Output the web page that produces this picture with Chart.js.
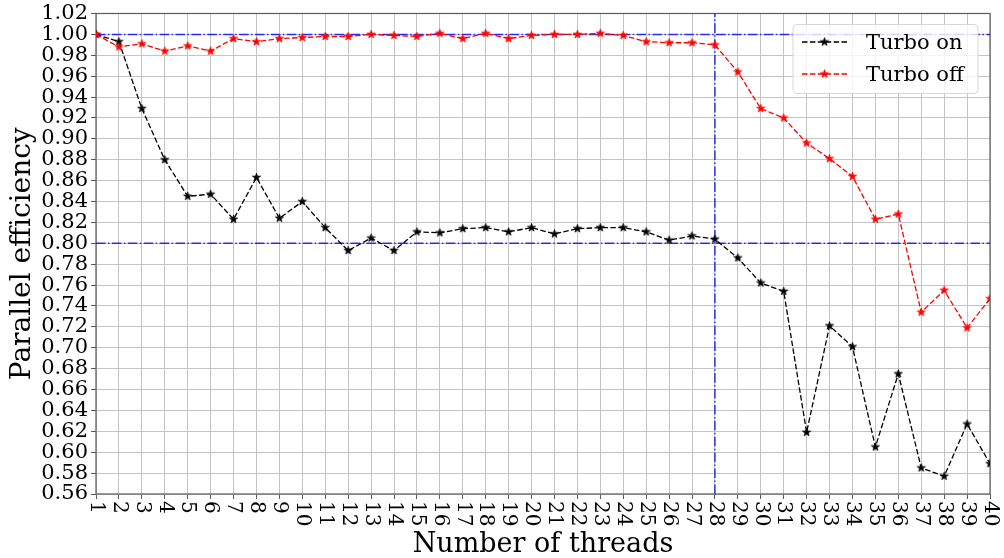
<!DOCTYPE html>
<html>
<head>
<meta charset="utf-8">
<script src="https://cdn.jsdelivr.net/npm/chart.js@4/dist/chart.umd.min.js"></script>
<style>
  html, body { margin: 0; padding: 0; background: #fff; }
  #wrap { width: 1004px; height: 558px; }
</style>
</head>
<body>
<div id="wrap"><canvas id="chart" width="1004" height="558"></canvas></div>
<script>
// data
const threads = [1,2,3,4,5,6,7,8,9,10,11,12,13,14,15,16,17,18,19,20,
                 21,22,23,24,25,26,27,28,29,30,31,32,33,34,35,36,37,38,39,40]
const turboOn = [1.000,0.993,0.929,0.880,0.845,0.847,0.823,0.863,0.824,0.840,
                 0.815,0.793,0.805,0.793,0.811,0.810,0.814,0.815,0.811,0.815,
                 0.809,0.814,0.815,0.815,0.811,0.803,0.807,0.804,0.786,0.762,
                 0.754,0.619,0.721,0.701,0.605,0.675,0.585,0.577,0.627,0.589]
const turboOff = [1.000,0.988,0.991,0.984,0.989,0.984,0.996,0.993,0.996,0.997,
                  0.998,0.998,1.000,0.999,0.998,1.001,0.996,1.001,0.996,0.999,
                  1.000,1.000,1.001,0.999,0.993,0.992,0.992,0.990,0.964,0.929,
                  0.920,0.896,0.881,0.864,0.823,0.828,0.734,0.755,0.719,0.747]
const refLevels = [1.00, 0.80]   // horizontal guides
const refThread = 28             // vertical guide
const yMin = 0.56, yMax = 1.02, yStep = 0.02

const SERIF = "'DejaVu Serif', serif"

function starImage(color, r) {
  const size = Math.ceil(r * 2 + 2)
  const c = document.createElement('canvas')
  c.width = size; c.height = size
  const g = c.getContext('2d')
  const cx = size / 2, cy = size / 2, ri = r * 0.382
  g.beginPath()
  for (let i = 0; i < 10; i++) {
    const a = -Math.PI / 2 + i * Math.PI / 5
    const rr = i % 2 === 0 ? r : ri
    const px = cx + rr * Math.cos(a), py = cy + rr * Math.sin(a)
    i === 0 ? g.moveTo(px, py) : g.lineTo(px, py)
  }
  g.closePath()
  g.fillStyle = color
  g.fill()
  g.lineWidth = 0.8
  g.strokeStyle = color
  g.stroke()
  return c
}

const blackStar = starImage('#000000', 4.3)
const redStar = starImage('#ff0000', 4.3)
const GUIDE = 'rgba(0,0,255,0.8)'
const GUIDE_DASH = [9.6, 2.4, 1.5, 2.4]

const toPts = ys => threads.map((t, i) => ({ x: t, y: ys[i] }))

const guideSets = refLevels.map(v => ({
  label: '_guide',
  data: [{ x: threads[0], y: v }, { x: threads[threads.length - 1], y: v }],
  borderColor: GUIDE, borderWidth: 1.5, borderDash: GUIDE_DASH,
  pointRadius: 0, fill: false, order: 10,
}))
guideSets.push({
  label: '_guide',
  data: [{ x: refThread, y: yMin }, { x: refThread, y: yMax }],
  borderColor: GUIDE, borderWidth: 1.5, borderDash: GUIDE_DASH,
  pointRadius: 0, fill: false, order: 10,
})

// frame around the plot, like matplotlib spines
const framePlugin = {
  id: 'frame',
  beforeDatasetsDraw(chart) {
    const { ctx, chartArea: a } = chart
    ctx.save()
    ctx.strokeStyle = '#5a5a5a'
    ctx.lineWidth = 1.2
    ctx.strokeRect(a.left, a.top, a.right - a.left, a.bottom - a.top)
    ctx.restore()
  },
}

// x tick labels rotated clockwise (reading top to bottom)
const xLabelPlugin = {
  id: 'xLabels',
  afterDraw(chart) {
    const { ctx, chartArea: a } = chart
    const sx = chart.scales.x
    ctx.save()
    ctx.fillStyle = '#000'
    ctx.font = '20px ' + SERIF
    ctx.textAlign = 'left'
    ctx.textBaseline = 'middle'
    sx.ticks.forEach(t => {
      const x = sx.getPixelForValue(t.value)
      ctx.save()
      ctx.translate(x, a.bottom + 7)
      ctx.rotate(Math.PI / 2)
      ctx.fillText(String(t.value), 0, 0)
      ctx.restore()
    })
    ctx.restore()
  },
}

// legend inside the upper right corner
const legendPlugin = {
  id: 'boxLegend',
  afterDraw(chart) {
    const { ctx, chartArea: a } = chart
    const sets = chart.data.datasets.filter(d => d.label[0] !== '_')
    const bw = 185, bh = 69
    const bx = a.right - 12 - bw, by = a.top + 11
    ctx.save()
    ctx.beginPath()
    ctx.roundRect(bx, by, bw, bh, 4)
    ctx.fillStyle = 'rgba(255,255,255,0.8)'
    ctx.fill()
    ctx.strokeStyle = '#d6d6d6'
    ctx.lineWidth = 1
    ctx.stroke()
    sets.forEach((d, i) => {
      const y = by + 17.5 + i * 32
      ctx.beginPath()
      ctx.setLineDash(d.borderDash)
      ctx.strokeStyle = d.borderColor
      ctx.lineWidth = d.borderWidth
      ctx.moveTo(bx + 9, y)
      ctx.lineTo(bx + 54, y)
      ctx.stroke()
      ctx.setLineDash([])
      const img = d.pointStyle
      ctx.drawImage(img, bx + 31.5 - img.width / 2, y - img.height / 2)
      ctx.fillStyle = '#000'
      ctx.font = '21px ' + SERIF
      ctx.textAlign = 'left'
      ctx.textBaseline = 'middle'
      ctx.fillText(d.label, bx + 73, y + 2)
    })
    ctx.restore()
  },
}

new Chart(document.getElementById('chart'), {
  type: 'line',
  data: {
    datasets: [
      {
        label: 'Turbo on',
        data: toPts(turboOn),
        borderColor: '#000000', borderWidth: 1.3, borderDash: [5.5, 2.4],
        pointStyle: blackStar, pointRadius: 4.3,
        fill: false, order: 1,
      },
      {
        label: 'Turbo off',
        data: toPts(turboOff),
        borderColor: '#ff0000', borderWidth: 1.3, borderDash: [5.5, 2.4],
        pointStyle: redStar, pointRadius: 4.3,
        fill: false, order: 0,
      },
      ...guideSets,
    ],
  },
  options: {
    responsive: false,
    animation: false,
    layout: { padding: { top: 0, right: 14, left: 0, bottom: 0 } },
    plugins: {
      legend: { display: false },
      tooltip: { enabled: false },
    },
    scales: {
      x: {
        type: 'linear',
        min: threads[0], max: threads[threads.length - 1],
        ticks: { display: false, stepSize: 1 },
        grid: { color: '#c4c4c4', lineWidth: 1, tickLength: 5, tickColor: '#5a5a5a' },
        border: { display: false },
        title: {
          display: true, text: 'Number of threads', color: '#000',
          font: { family: SERIF, size: 27, lineHeight: 1 },
          padding: { top: 0, bottom: 0 },
        },
        afterFit(s) { s.height = 64 },
      },
      y: {
        min: yMin, max: yMax,
        ticks: {
          stepSize: yStep, color: '#000', padding: 3, autoSkip: false,
          font: { family: SERIF, size: 21, lineHeight: 1 },
          callback: v => v.toFixed(2),
        },
        grid: { color: '#c4c4c4', lineWidth: 1, tickLength: 5, tickColor: '#5a5a5a' },
        border: { display: false },
        title: {
          display: true, text: 'Parallel efficiency', color: '#000',
          font: { family: SERIF, size: 28, lineHeight: 1 },
          padding: { top: 9, bottom: 0 },
        },
        afterFit(s) { s.width = 96 },
      },
    },
  },
  plugins: [framePlugin, xLabelPlugin, legendPlugin],
})
</script>
</body>
</html>
